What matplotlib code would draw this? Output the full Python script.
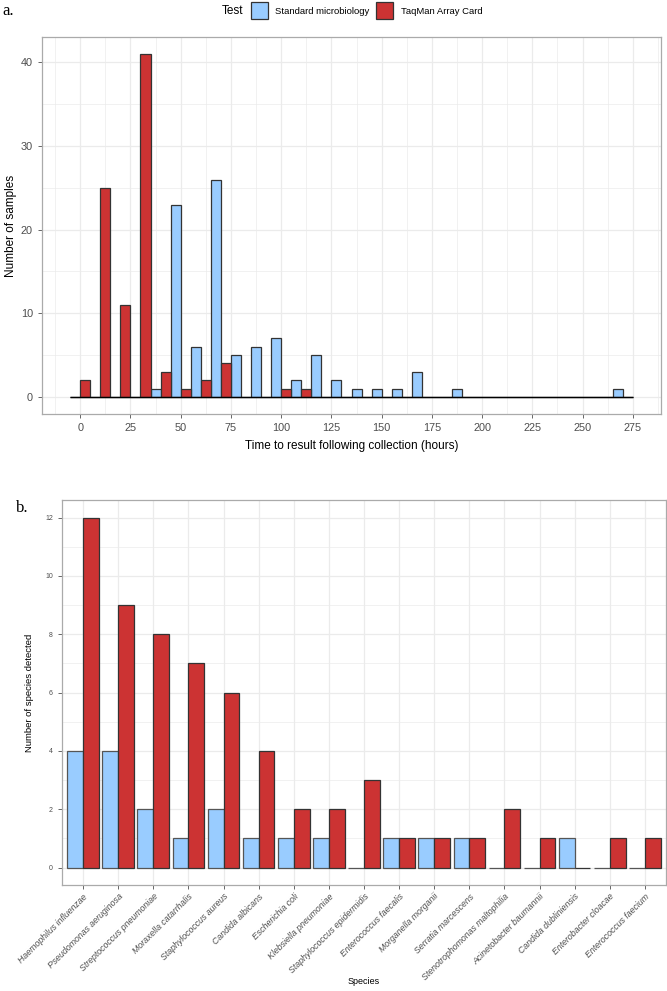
import numpy as np
import matplotlib.pyplot as plt
from matplotlib.patches import Rectangle

# panel a: histogram counts per 10 h bin (bin centres 0..270)
bin_centres = list(range(0, 280, 10))
std_counts = [0, 0, 0, 0, 1, 23, 6, 26, 5, 6, 7, 2, 5, 2, 1, 1, 1, 3, 0, 1,
              0, 0, 0, 0, 0, 0, 0, 1]
tac_counts = [2, 25, 11, 41, 3, 1, 2, 4, 0, 0, 1, 1, 0, 0, 0, 0, 0, 0, 0, 0,
              0, 0, 0, 0, 0, 0, 0, 0]

# panel b: species detected
species = ['Haemophilus influenzae', 'Pseudomonas aeruginosa', 'Streptococcus pneumoniae',
           'Moraxella catarrhalis', 'Staphylococcus aureus', 'Candida albicans',
           'Escherichia coli', 'Klebsiella pneumoniae', 'Staphylococcus epidermidis',
           'Enterococcus faecalis', 'Morganella morganii', 'Serratia marcescens',
           'Stenotrophomonas maltophilia', 'Acinetobacter baumannii', 'Candida dubliniensis',
           'Enterobacter cloacae', 'Enterococcus faecium']
std_species = [4, 4, 2, 1, 2, 1, 1, 1, 0, 1, 1, 1, 0, 0, 1, 0, 0]
tac_species = [12, 9, 8, 7, 6, 4, 2, 2, 3, 1, 1, 1, 2, 1, 0, 1, 1]

legend_labels = ['Standard microbiology', 'TaqMan Array Card']
blue = '#99CCFF'
red = '#CC3333'
edge = '#333333'
grid_c = '#EBEBEB'
border_c = '#AAAAAA'
tick_c = '#4D4D4D'

plt.rcParams['font.family'] = ['Liberation Sans', 'DejaVu Sans']

W, H = 667, 991
fig = plt.figure(figsize=(W / 100, H / 100), dpi=100)


def frac(x0, y0, x1, y1):
    return [x0 / W, 1 - y1 / H, (x1 - x0) / W, (y1 - y0) / H]


def style(ax):
    ax.set_axisbelow(True)
    for s in ax.spines.values():
        s.set_color(border_c)
        s.set_linewidth(0.9)
    ax.grid(which='major', color=grid_c, linewidth=0.9)
    ax.grid(which='minor', color=grid_c, linewidth=0.5)
    ax.tick_params(which='major', color=tick_c, length=3, width=0.6, labelcolor=tick_c)
    ax.tick_params(which='minor', length=0)


# ---- panel a ----
ax1 = fig.add_axes(frac(42, 37, 661, 414))
style(ax1)
bc = np.array(bin_centres)
ax1.bar(bc - 2.5, std_counts, width=5, color=blue, edgecolor=edge, linewidth=0.9)
ax1.bar(bc + 2.5, tac_counts, width=5, color=red, edgecolor=edge, linewidth=0.9)
ax1.hlines(0, -5, 275, color='black', linewidth=1.0, zorder=1.5)
ax1.set_xlim(-19, 289)
ax1.set_ylim(-2.05, 43.05)
ax1.set_xticks(np.arange(0, 276, 25))
ax1.set_xticks(np.arange(-12.5, 289, 25), minor=True)
ax1.set_yticks([0, 10, 20, 30, 40])
ax1.set_yticks([5, 15, 25, 35], minor=True)
ax1.tick_params(labelsize=7.8)
ax1.set_xlabel('Time to result following collection (hours)', fontsize=8.5, labelpad=5)
ax1.set_ylabel('Number of samples', fontsize=8.5, labelpad=3)

# legend drawn at the top
fig.text(222 / W, 1 - 11 / H, 'Test', fontsize=8.5, va='center', ha='left')
fig.add_artist(Rectangle((251 / W, 1 - 19 / H), 17 / W, 17 / H, transform=fig.transFigure,
                         facecolor=blue, edgecolor=edge, linewidth=0.9))
fig.text(275 / W, 1 - 11 / H, legend_labels[0], fontsize=6.8, va='center', ha='left')
fig.add_artist(Rectangle((376 / W, 1 - 19 / H), 17 / W, 17 / H, transform=fig.transFigure,
                         facecolor=red, edgecolor=edge, linewidth=0.9))
fig.text(401 / W, 1 - 11 / H, legend_labels[1], fontsize=6.8, va='center', ha='left')

fig.text(2 / W, 1 - 11 / H, 'a.', fontsize=12, family='Liberation Serif', va='center')
fig.text(16 / W, 1 - 508 / H, 'b.', fontsize=12, family='Liberation Serif', va='center')

# ---- panel b ----
ax2 = fig.add_axes(frac(62, 500, 666, 885))
style(ax2)
pos = np.arange(1, len(species) + 1)
ax2.bar(pos - 0.225, std_species, width=0.45, color=blue, edgecolor='#555555', linewidth=0.9)
ax2.bar(pos + 0.225, tac_species, width=0.45, color=red, edgecolor=edge, linewidth=0.9)
ax2.set_xlim(0.4, len(species) + 0.6)
ax2.set_ylim(-0.6, 12.6)
ax2.set_xticks(pos)
ax2.set_xticklabels(species, rotation=45, ha='right', va='top', rotation_mode='anchor',
                    fontsize=6.3, style='italic')
ax2.set_yticks(np.arange(0, 13, 2))
ax2.set_yticks(np.arange(1, 13, 2), minor=True)
ax2.tick_params(axis='y', labelsize=5)
ax2.tick_params(axis='x', pad=2)
ax2.set_ylabel('Number of species detected', fontsize=6.8, labelpad=8)
fig.text(364 / W, 1 - 981 / H, 'Species', fontsize=6.5, ha='center', va='center')

fig.savefig('out.png', dpi=100)
